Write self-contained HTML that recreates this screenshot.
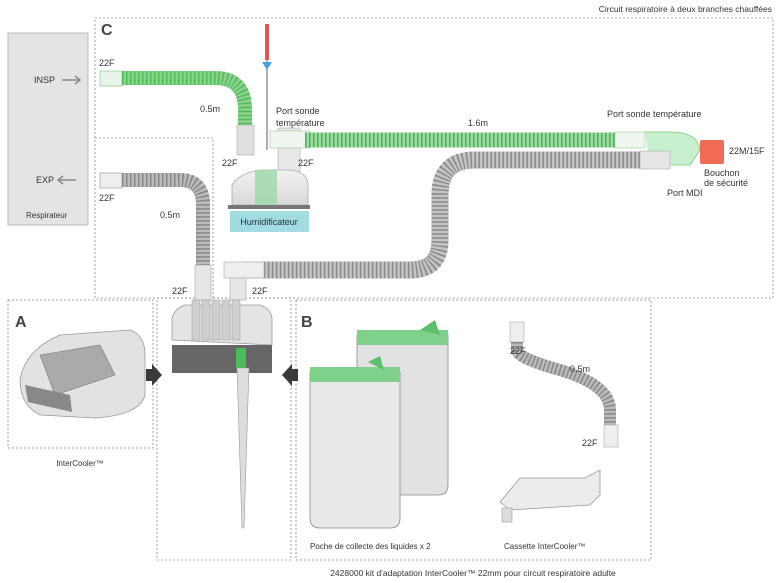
<!DOCTYPE html>
<html><head><meta charset="utf-8"><style>
html,body{margin:0;padding:0;background:#fff}
svg{display:block}
text{font-family:"Liberation Sans",Arial,sans-serif;fill:#333}
</style></head><body>
<svg width="783" height="583" viewBox="0 0 783 583" xmlns="http://www.w3.org/2000/svg" font-size="9">
<defs>
<linearGradient id="gbox" x1="0" y1="0" x2="0" y2="1"><stop offset="0" stop-color="#f2f2f2"/><stop offset="1" stop-color="#d8d8d8"/></linearGradient>
</defs>
<text x="772" y="12" text-anchor="end" style="font-size:8.5px">Circuit respiratoire à deux branches chauffées</text>

<!-- dashed boxes -->
<g fill="none" stroke="#888" stroke-dasharray="2,2" stroke-width="0.8">
<path d="M95 18 H773 V298 H95 Z"/>
<path d="M95 138 H213 V298"/>
<rect x="8" y="300" width="145" height="148"/>
<rect x="157" y="298" width="134" height="262"/>
<rect x="296" y="300" width="355" height="260"/>
</g>

<!-- Respirateur -->
<rect x="8" y="33" width="80" height="192" fill="#e4e4e4" stroke="#aaa" stroke-width="0.8"/>
<text x="34" y="83" style="font-size:9px">INSP</text>
<path d="M62 80 H80 M75 76 L80 80 L75 84" stroke="#888" stroke-width="1.5" fill="none"/>
<text x="36" y="183" style="font-size:9px">EXP</text>
<path d="M58 180 H76 M63 176 L58 180 L63 184" stroke="#888" stroke-width="1.5" fill="none"/>
<text x="26" y="218" style="font-size:8px">Respirateur</text>

<text x="101" y="35" style="font-size:16px;font-weight:bold;fill:#444">C</text>
<text x="15" y="327" style="font-size:16px;font-weight:bold;fill:#444">A</text>
<text x="301" y="327" style="font-size:16px;font-weight:bold;fill:#444">B</text>

<!-- green insp tube -->
<rect x="100" y="71" width="22" height="15" fill="#e8f4ea" stroke="#9c9" stroke-width="0.8"/>
<path d="M122 78 H215 Q245 78 245 110 V140" fill="none" stroke="#8fd08f" stroke-width="14"/>
<path d="M122 78 H215 Q245 78 245 110 V140" fill="none" stroke="#4cbf5a" stroke-width="14" stroke-dasharray="1.5,2.5"/>
<rect x="237" y="125" width="17" height="30" fill="#e0e0e0" stroke="#aaa" stroke-width="0.6"/>
<!-- probe -->
<line x1="267" y1="30" x2="267" y2="150" stroke="#777" stroke-width="1.2"/>
<rect x="265" y="24" width="4" height="36" fill="#e25555"/>
<path d="M262 62 L272 62 L267 70 Z" fill="#4aa0d8"/>

<!-- exp gray tube left -->
<rect x="100" y="173" width="22" height="15" fill="#eee" stroke="#aaa" stroke-width="0.8"/>
<path d="M122 180 H180 Q203 180 203 205 V285" fill="none" stroke="#bbb" stroke-width="14"/>
<path d="M122 180 H180 Q203 180 203 205 V265" fill="none" stroke="#888" stroke-width="14" stroke-dasharray="1.5,2.5"/>
<rect x="195" y="265" width="16" height="35" fill="#e6e6e6" stroke="#aaa" stroke-width="0.6"/>

<!-- humidifier -->
<rect x="278" y="128" width="22" height="52" fill="#e8e8e8" stroke="#aaa" stroke-width="0.6"/>
<path d="M232 205 L232 185 Q240 172 262 170 H290 Q308 172 308 185 V205 Z" fill="url(#gbox)" stroke="#aaa" stroke-width="0.8"/>
<rect x="255" y="170" width="22" height="35" fill="#9bd9a6" opacity="0.8"/>
<rect x="228" y="205" width="82" height="4" fill="#777"/>
<rect x="230" y="211" width="79" height="21" fill="#a3dbe3"/>
<text x="269" y="225" text-anchor="middle" style="font-size:9px;fill:#234">Humidificateur</text>

<!-- insp green long tube -->
<rect x="270" y="131" width="40" height="17" fill="#eef6ef" stroke="#9c9" stroke-width="0.6"/>
<line x1="305" y1="140" x2="620" y2="140" stroke="#9ed99f" stroke-width="15"/>
<line x1="305" y1="140" x2="620" y2="140" stroke="#44b855" stroke-width="15" stroke-dasharray="1.5,2.5"/>
<rect x="615" y="132" width="30" height="16" fill="#eef6ef" stroke="#9c9" stroke-width="0.6"/>
<path d="M645 132 H670 Q698 132 700 150 L690 165 H650" fill="#c8efcf" stroke="#7c7" stroke-width="0.8"/>
<rect x="700" y="140" width="24" height="24" fill="#f06a55" rx="2"/>

<!-- exp gray long tube -->
<path d="M650 160 H475 Q440 160 440 195 V240 Q440 270 410 270 H245" fill="none" stroke="#c4c4c4" stroke-width="17"/>
<path d="M640 160 H475 Q440 160 440 195 V240 Q440 270 410 270 H262" fill="none" stroke="#8a8a8a" stroke-width="17" stroke-dasharray="1.5,2.5"/>
<rect x="640" y="151" width="30" height="18" fill="#e6e6e6" stroke="#aaa" stroke-width="0.6"/>
<rect x="224" y="262" width="40" height="16" fill="#eee" stroke="#aaa" stroke-width="0.6"/>
<rect x="230" y="278" width="16" height="22" fill="#e6e6e6" stroke="#aaa" stroke-width="0.6"/>

<!-- labels C -->
<g style="font-size:9px">
<text x="99" y="66">22F</text>
<text x="99" y="201">22F</text>
<text x="200" y="112">0.5m</text>
<text x="160" y="218">0.5m</text>
<text x="276" y="114">Port sonde</text>
<text x="276" y="126">température</text>
<text x="222" y="166">22F</text>
<text x="298" y="166">22F</text>
<text x="468" y="126">1.6m</text>
<text x="607" y="117">Port sonde température</text>
<text x="729" y="154">22M/15F</text>
<text x="704" y="176">Bouchon</text>
<text x="704" y="186">de sécurité</text>
<text x="667" y="196">Port MDI</text>
<text x="172" y="294">22F</text>
<text x="252" y="294">22F</text>
</g>

<!-- InterCooler center -->
<path d="M172 340 V318 Q175 308 185 305 H260 Q270 308 272 318 V345 Z" fill="#e4e4e4" stroke="#999" stroke-width="0.8"/>
<g fill="#cfcfcf" stroke="#999" stroke-width="0.5">
<rect x="192" y="300" width="8" height="40"/><rect x="202" y="300" width="8" height="40"/><rect x="212" y="300" width="8" height="40"/><rect x="222" y="300" width="8" height="40"/><rect x="232" y="300" width="8" height="40"/>
</g>
<rect x="172" y="345" width="100" height="28" fill="#666"/>
<rect x="236" y="348" width="10" height="20" fill="#4cbb5a"/>
<path d="M237 368 L249 368 L244 528 L242 528 Z" fill="#ddd" stroke="#999" stroke-width="0.6"/>
<path d="M146 369 H152 V364 L162 375 L152 386 V381 H146 Z" fill="#3a3a3a"/>
<path d="M298 369 H292 V364 L282 375 L292 386 V381 H298 Z" fill="#3a3a3a"/>

<!-- InterCooler A -->
<path d="M20 380 Q25 350 60 335 L130 330 Q145 335 145 355 V395 Q140 415 95 418 L40 415 Q20 405 20 380 Z" fill="#e2e2e2" stroke="#999" stroke-width="0.8"/>
<path d="M40 355 L100 345 L115 375 L55 395 Z" fill="#aaa" stroke="#777" stroke-width="0.6"/>
<path d="M25 385 L70 395 L72 412 L28 402 Z" fill="#888"/>
<text x="80" y="466" text-anchor="middle" style="font-size:8px">InterCooler™</text>

<!-- bags -->
<path d="M357 335 H448 V485 Q448 495 438 495 H367 Q357 495 357 485 Z" fill="#e2e2e2" stroke="#888" stroke-width="0.8"/>
<path d="M357 330 H448 V345 H357 Z" fill="#7ed08a"/>
<path d="M420 330 L435 320 L440 335 Z" fill="#5cbf6a"/>
<path d="M310 372 H400 V518 Q400 528 390 528 H320 Q310 528 310 518 Z" fill="#e8e8e8" stroke="#888" stroke-width="0.8"/>
<path d="M310 367 H400 V382 H310 Z" fill="#7ed08a"/>
<path d="M368 362 L380 356 L384 370 Z" fill="#5cbf6a"/>
<text x="310" y="549" style="font-size:8px">Poche de collecte des liquides x 2</text>

<!-- tube B -->
<rect x="510" y="322" width="14" height="20" fill="#eee" stroke="#aaa" stroke-width="0.6"/>
<path d="M517 342 V350 Q517 358 560 370 Q610 385 610 410 V425" fill="none" stroke="#bbb" stroke-width="12"/>
<path d="M517 342 V350 Q517 358 560 370 Q610 385 610 410 V425" fill="none" stroke="#888" stroke-width="12" stroke-dasharray="1.5,2.5"/>
<rect x="604" y="425" width="14" height="22" fill="#eee" stroke="#aaa" stroke-width="0.6"/>
<g style="font-size:9px"><text x="510" y="354">22F</text><text x="570" y="372">0.5m</text><text x="582" y="446">22F</text></g>

<!-- cassette -->
<path d="M500 502 L520 478 L585 478 L600 470 L600 495 L590 505 L510 510 Z" fill="#ececec" stroke="#999" stroke-width="0.8"/>
<rect x="502" y="508" width="10" height="14" fill="#ddd" stroke="#999" stroke-width="0.6"/>
<text x="504" y="549" style="font-size:8px">Cassette InterCooler™</text>

<text x="473" y="576" text-anchor="middle" style="font-size:8.5px">2428000 kit d'adaptation InterCooler™ 22mm pour circuit respiratoire adulte</text>
</svg>
</body></html>
